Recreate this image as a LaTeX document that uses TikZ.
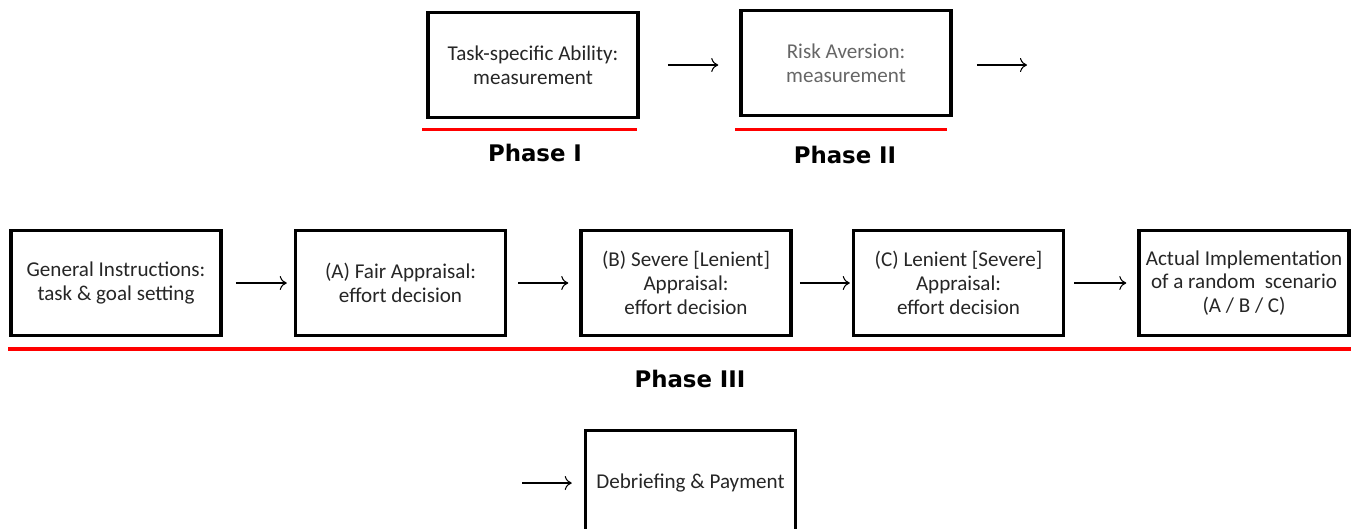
\documentclass[tikz,border=0pt]{standalone}
\usepackage{fontspec}
\setmainfont{Carlito}
\newfontfamily\phasefont{DejaVu Sans}
\usetikzlibrary{positioning}
\usetikzlibrary{arrows}
\usetikzlibrary{arrows.meta}
\usetikzlibrary{calc}

\begin{document}
\begin{tikzpicture}
  \tikzset{
    stagenode/.style={rectangle, draw=black, line width=2pt, minimum width=4.2cm, minimum height=2.1cm, align=center, text=black!85, font=\fontsize{12}{13.5}\selectfont},
    phaseline/.style={draw=red, line width=2pt},
    phaselabel/.style={font=\phasefont\fontsize{13}{15}\bfseries\selectfont},
    flow/.style={-{To[length=4pt, width=8pt]}, semithick, shorten <=0.2cm, shorten >=0.18cm},
  }
  \useasboundingbox (0,0) rectangle (27.02,-10.56);
  \clip (0,0) rectangle (27.02,-10.56);

  % Phase I and II
  \node[stagenode] (ability) at (10.66,-1.30) {Task-specific Ability:\\measurement};
  \node[stagenode, text=black!60] (risk) at (16.92,-1.26) {Risk Aversion:\\measurement};
  \coordinate (riskout) at (20.54,-1.30);

  \draw[flow, shorten <=0.56cm, shorten >=0.42cm] (ability.east) -- (ability.east -| risk.west);
  \draw[flow, shorten <=0.48cm, shorten >=0cm] (risk.east |- riskout) -- (riskout);

  \draw[phaseline] ($(ability.south west)+(-0.08,-0.2)$) -- ($(ability.south east)+(-0.06,-0.2)$);
  \draw[phaseline] ($(risk.south west)+(-0.08,-0.24)$) -- ($(risk.south east)+(-0.12,-0.24)$);
  \node[phaselabel] (phase1) at (10.70,-3.06) {Phase I};
  \node[phaselabel] (phase2) at (16.90,-3.10) {Phase II};

  % Phase III
  \node[stagenode] (general) at (2.32,-5.66) {General Instructions:\\task \& goal setting};
  \node[stagenode, right=1.42cm of general] (fair) {(A) Fair Appraisal:\\effort decision};
  \node[stagenode, right=1.44cm of fair] (severe) {(B) Severe [Lenient]\\Appraisal:\\effort decision};
  \node[stagenode, right=1.18cm of severe] (lenient) {(C) Lenient [Severe]\\Appraisal:\\effort decision};
  \node[stagenode, right=1.44cm of lenient] (actual) {Actual Implementation\\of a random~~scenario\\(A / B / C)};

  \draw[flow, shorten <=0.26cm, shorten >=0.14cm] (general) -- (fair);
  \draw[flow, shorten <=0.22cm, shorten >=0.22cm] (fair) -- (severe);
  \draw[flow, shorten <=0.14cm, shorten >=0.04cm] (severe) -- (lenient);
  \draw[flow, shorten <=0.18cm, shorten >=0.22cm] (lenient) -- (actual);

  \draw[phaseline] (0.16,-6.98) -- (27.02,-6.98);
  \node[phaselabel] (phase3) at (13.80,-7.58) {Phase III};

  % Debriefing
  \node[stagenode] (debrief) at (13.81,-9.66) {Debriefing \& Payment};
  \coordinate (debriefin) at (10.44,-9.66);
  \draw[flow, shorten <=0cm, shorten >=0.24cm] (debriefin) -- (debrief);
\end{tikzpicture}
\end{document}
